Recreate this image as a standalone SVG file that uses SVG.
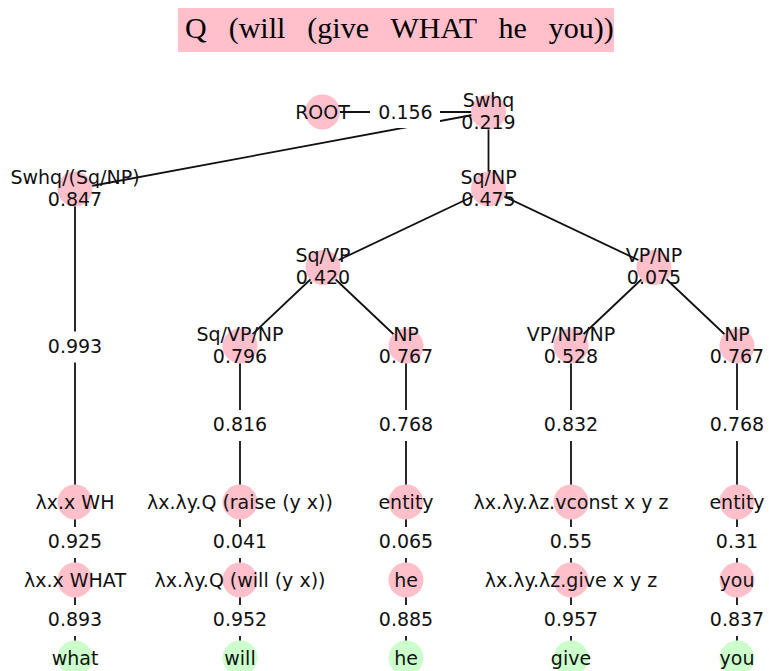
<svg xmlns="http://www.w3.org/2000/svg" width="769" height="671" viewBox="0 0 769 671">
<style>
.t{font-family:"DejaVu Sans",sans-serif;font-size:19px;fill:#111;text-anchor:middle}
.e line{stroke:#111;stroke-width:1.8}
.n{fill:#ffc0cb}
.g{fill:#ccffcc}
.lb{fill:#fff}
.title{font-family:"Liberation Serif",serif;font-size:30px;fill:#000;word-spacing:14.5px}
</style>
<rect x="178" y="8" width="436" height="44" fill="#ffc0cb"/>
<text class="title" x="185" y="38">Q (will (give WHAT he you))</text>
<g id="edges" class="e">
<line x1="322.5" y1="112" x2="488.5" y2="112"/>
<line x1="488.5" y1="112" x2="75" y2="189"/>
<line x1="488.5" y1="112" x2="488.5" y2="189"/>
<line x1="488.5" y1="189" x2="323" y2="267.5"/>
<line x1="488.5" y1="189" x2="654" y2="267.5"/>
<line x1="323" y1="267.5" x2="240" y2="346"/>
<line x1="323" y1="267.5" x2="406" y2="346"/>
<line x1="654" y1="267.5" x2="571" y2="346"/>
<line x1="654" y1="267.5" x2="737" y2="346"/>
<line x1="75" y1="189" x2="75" y2="658"/>
<line x1="240" y1="346" x2="240" y2="658"/>
<line x1="406" y1="346" x2="406" y2="658"/>
<line x1="571" y1="346" x2="571" y2="658"/>
<line x1="737" y1="346" x2="737" y2="658"/>
</g>
<g id="edge-labels">
<rect class="lb" x="370" y="98" width="70" height="30"/><text class="t" x="405.5" y="119">0.156</text>
<rect class="lb" x="45" y="331.5" width="60" height="31"/><text class="t" x="75" y="352.5">0.993</text>
<rect class="lb" x="210" y="410" width="60" height="31"/><text class="t" x="240" y="431">0.816</text>
<rect class="lb" x="376" y="410" width="60" height="31"/><text class="t" x="406" y="431">0.768</text>
<rect class="lb" x="541" y="410" width="60" height="31"/><text class="t" x="571" y="431">0.832</text>
<rect class="lb" x="707" y="410" width="60" height="31"/><text class="t" x="737" y="431">0.768</text>
<rect class="lb" x="45" y="527" width="60" height="31"/><text class="t" x="75" y="547.5">0.925</text>
<rect class="lb" x="210" y="527" width="60" height="31"/><text class="t" x="240" y="547.5">0.041</text>
<rect class="lb" x="376" y="527" width="60" height="31"/><text class="t" x="406" y="547.5">0.065</text>
<rect class="lb" x="541" y="527" width="60" height="31"/><text class="t" x="571" y="547.5">0.55</text>
<rect class="lb" x="707" y="527" width="60" height="31"/><text class="t" x="737" y="547.5">0.31</text>
<rect class="lb" x="45" y="605" width="60" height="31"/><text class="t" x="75" y="626">0.893</text>
<rect class="lb" x="210" y="605" width="60" height="31"/><text class="t" x="240" y="626">0.952</text>
<rect class="lb" x="376" y="605" width="60" height="31"/><text class="t" x="406" y="626">0.885</text>
<rect class="lb" x="541" y="605" width="60" height="31"/><text class="t" x="571" y="626">0.957</text>
<rect class="lb" x="707" y="605" width="60" height="31"/><text class="t" x="737" y="626">0.837</text>
</g>
<g id="n-root"><circle class="n" cx="322.5" cy="112" r="17.5"/><text class="t" x="322.5" y="118.5">ROOT</text></g>
<g id="n-swhq"><circle class="n" cx="488.5" cy="112" r="17.5"/><text class="t" x="488.5" y="106.5">Swhq</text><text class="t" x="488.5" y="128.5">0.219</text></g>
<g id="n-swhq-sqnp"><circle class="n" cx="75" cy="189" r="17.5"/><text class="t" x="75" y="183.5">Swhq/(Sq/NP)</text><text class="t" x="75" y="205.5">0.847</text></g>
<g id="n-sqnp"><circle class="n" cx="488.5" cy="189" r="17.5"/><text class="t" x="488.5" y="183.5">Sq/NP</text><text class="t" x="488.5" y="205.5">0.475</text></g>
<g id="n-sqvp"><circle class="n" cx="323" cy="267.5" r="17.5"/><text class="t" x="323" y="262">Sq/VP</text><text class="t" x="323" y="284">0.420</text></g>
<g id="n-vpnp"><circle class="n" cx="654" cy="267.5" r="17.5"/><text class="t" x="654" y="262">VP/NP</text><text class="t" x="654" y="284">0.075</text></g>
<g id="n-sqvpnp"><circle class="n" cx="240" cy="346" r="17.5"/><text class="t" x="240" y="340.5">Sq/VP/NP</text><text class="t" x="240" y="362.5">0.796</text></g>
<g id="n-np1"><circle class="n" cx="406" cy="346" r="17.5"/><text class="t" x="406" y="340.5">NP</text><text class="t" x="406" y="362.5">0.767</text></g>
<g id="n-vpnpnp"><circle class="n" cx="571" cy="346" r="17.5"/><text class="t" x="571" y="340.5">VP/NP/NP</text><text class="t" x="571" y="362.5">0.528</text></g>
<g id="n-np2"><circle class="n" cx="737" cy="346" r="17.5"/><text class="t" x="737" y="340.5">NP</text><text class="t" x="737" y="362.5">0.767</text></g>
<g id="n-wh"><circle class="n" cx="75" cy="502" r="17.5"/><text class="t" x="75" y="508.5">λx.x WH</text></g>
<g id="n-raise"><circle class="n" cx="240" cy="502" r="17.5"/><text class="t" x="240" y="508.5">λx.λy.Q (raise (y x))</text></g>
<g id="n-entity1"><circle class="n" cx="406" cy="502" r="17.5"/><text class="t" x="406" y="508.5">entity</text></g>
<g id="n-vconst"><circle class="n" cx="571" cy="502" r="17.5"/><text class="t" x="571" y="508.5">λx.λy.λz.vconst x y z</text></g>
<g id="n-entity2"><circle class="n" cx="737" cy="502" r="17.5"/><text class="t" x="737" y="508.5">entity</text></g>
<g id="n-what-sem"><circle class="n" cx="75" cy="580" r="17.5"/><text class="t" x="75" y="586.5">λx.x WHAT</text></g>
<g id="n-will-sem"><circle class="n" cx="240" cy="580" r="17.5"/><text class="t" x="240" y="586.5">λx.λy.Q (will (y x))</text></g>
<g id="n-he-sem"><circle class="n" cx="406" cy="580" r="17.5"/><text class="t" x="406" y="586.5">he</text></g>
<g id="n-give-sem"><circle class="n" cx="571" cy="580" r="17.5"/><text class="t" x="571" y="586.5">λx.λy.λz.give x y z</text></g>
<g id="n-you-sem"><circle class="n" cx="737" cy="580" r="17.5"/><text class="t" x="737" y="586.5">you</text></g>
<g id="w-what"><circle class="g" cx="75" cy="658" r="17.5"/><text class="t" x="75" y="664.5">what</text></g>
<g id="w-will"><circle class="g" cx="240" cy="658" r="17.5"/><text class="t" x="240" y="664.5">will</text></g>
<g id="w-he"><circle class="g" cx="406" cy="658" r="17.5"/><text class="t" x="406" y="664.5">he</text></g>
<g id="w-give"><circle class="g" cx="571" cy="658" r="17.5"/><text class="t" x="571" y="664.5">give</text></g>
<g id="w-you"><circle class="g" cx="737" cy="658" r="17.5"/><text class="t" x="737" y="664.5">you</text></g>
</svg>
